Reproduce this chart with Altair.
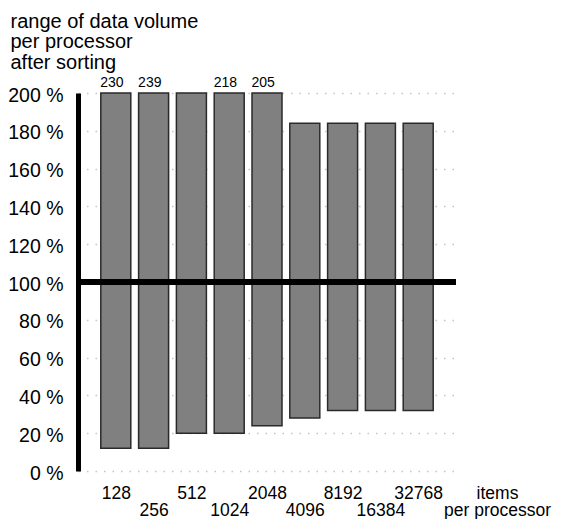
import json
import altair as alt
import pandas as pd

# ---- data ----
sizes = ["128", "256", "512", "1024", "2048", "4096", "8192", "16384", "32768"]
positions = [1, 2, 3, 4, 5, 6, 7, 8, 9]
low_pct = [12, 12, 20, 20, 24, 28, 32, 32, 32]
high_pct = [200, 200, 200, 200, 200, 184, 184, 184, 184]
peak_labels = ["230", "239", "", "218", "205", "", "", "", ""]
y_ticks = [0, 20, 40, 60, 80, 100, 120, 140, 160, 180, 200]
ref_level = 100
x_domain = [0, 10]

df = pd.DataFrame({
    "pos": positions,
    "size": sizes,
    "low": low_pct,
    "high": high_pct,
    "peak": peak_labels,
})

FONT = "Liberation Sans"

y_axis = alt.Axis(
    values=y_ticks,
    tickCount=len(y_ticks),
    labelExpr="datum.value + ' %'",
    labelFont=FONT,
    labelFontSize=19.5,
    labelColor="black",
    labelPadding=15,
    labelOffset=2,
    labelOverlap=False,
    labelFlush=False,
    ticks=False,
    tickSize=0,
    domain=True,
    domainColor="black",
    domainWidth=5,
    grid=True,
    gridColor="#c4c4c4",
    gridDash=[1.5, 7],
    gridWidth=1.5,
    title=["range of data volume", "per processor", "after sorting"],
    titleAngle=0,
    titleAlign="left",
    titleBaseline="alphabetic",
    titleX=-68,
    titleY=-66,
    titleFont=FONT,
    titleFontSize=20,
    titleFontWeight="normal",
    titleLineHeight=20.5,
    titleColor="black",
)

label_map = json.dumps(sizes)
x_axis = alt.Axis(
    values=positions,
    tickCount=len(positions),
    labelExpr=f"{label_map}[datum.value - 1]",
    labelFont=FONT,
    labelFontSize=17.5,
    labelColor="black",
    labelBaseline="top",
    labelPadding=alt.expr("datum.value % 2 == 1 ? 13 : 30"),
    labelFlush=False,
    labelOverlap=False,
    ticks=False,
    tickSize=0,
    domain=False,
    grid=False,
    title=["items", "per processor"],
    titleX=419,
    titleY=13,
    titleAlign="center",
    titleBaseline="top",
    titleFont=FONT,
    titleFontSize=17.5,
    titleFontWeight="normal",
    titleLineHeight=17.5,
    titleColor="black",
)

x_scale = alt.Scale(domain=x_domain, nice=False, zero=False, padding=0)
y_scale = alt.Scale(domain=[y_ticks[0], y_ticks[-1]], nice=False, padding=0)

bars = alt.Chart(df).mark_bar(
    size=30, fill="#808080", stroke="#2a2a2a", strokeWidth=1.5
).encode(
    x=alt.X("pos:Q", scale=x_scale, axis=x_axis),
    y=alt.Y("low:Q", scale=y_scale, axis=y_axis),
    y2="high:Q",
)

peaks = alt.Chart(df).mark_text(
    align="left", baseline="alphabetic", dx=-15.5, dy=-6,
    font=FONT, fontSize=14, color="black"
).encode(
    x=alt.X("pos:Q", scale=x_scale, axis=x_axis),
    y=alt.Y("high:Q", scale=y_scale, axis=y_axis),
    text="peak:N",
)

ref_line = alt.Chart(df).mark_rule(color="black", strokeWidth=5).encode(
    x=alt.datum(x_domain[0]),
    x2=alt.datum(x_domain[1]),
    y=alt.datum(ref_level),
)

chart = alt.layer(bars, peaks, ref_line).properties(
    width=378,
    height=378,
    padding={"left": 70, "top": 85, "right": 102, "bottom": 48},
    autosize=alt.AutoSizeParams(type="none"),
).configure(font=FONT).configure_view(stroke=None)

chart.save("out.html", embed_options={"renderer": "svg", "actions": False})
